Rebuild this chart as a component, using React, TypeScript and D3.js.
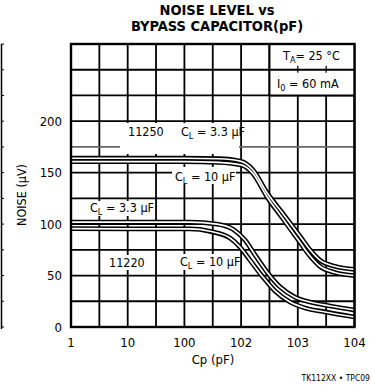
import React from "react";
import * as d3 from "d3";

// Noise vs bypass capacitance, two regulator variants, two load capacitors each
const capValues = [1, 100, 400, 1000, 1600, 2900, 5500, 11000, 16400, 24500, 45000, 100000];
const noise11250CL33 = [164, 164, 163.5, 161, 153, 130, 110, 88, 75, 65, 59, 56];
const noise11250CL10 = [160.7, 160.7, 160, 157.5, 149.5, 126, 105, 82, 69, 59, 53, 50];

const capLow33 = [1, 125, 376, 720, 1170, 1760, 2860, 4850, 8930, 16400, 37000, 100000];
const noise11220CL33 = [102, 102, 100, 95, 84.5, 70, 53.5, 39, 29, 24.3, 20.4, 16.5];
const capLow10 = [1, 125, 283, 637, 955, 1435, 2340, 3960, 7280, 13400, 30200, 100000];
const noise11220CL10 = [95.5, 95.3, 93, 86.5, 77.7, 65, 49.6, 35, 24.3, 18.5, 14.6, 9.7];

const xTickValues = [1, 10, 100, 1000, 10000, 100000];
const xTickLabels = ["1", "10", "100", "102", "103", "104"];
const yTickValues = [0, 50, 100, 150, 200];
const yGridValues = d3.range(0, 276, 25);

const W = 372;
const H = 387;
const FONT = "'Liberation Sans Narrow', 'DejaVu Sans Condensed', 'Arial Narrow', sans-serif";

export default function App() {
  const x = d3.scaleLog().domain([1, 100000]).range([71, 354.5]);
  const y = d3.scaleLinear().domain([0, 275]).range([327, 44]);

  const xGrid: number[] = [];
  for (let k = 0; k <= 5; k += 0.5) xGrid.push(Math.pow(10, k));

  const line = d3
    .line<[number, number]>()
    .x((d) => x(d[0]))
    .y((d) => y(d[1]))
    .curve(d3.curveMonotoneX);

  const series = [
    d3.zip(capValues, noise11250CL33) as [number, number][],
    d3.zip(capValues, noise11250CL10) as [number, number][],
    d3.zip(capLow33, noise11220CL33) as [number, number][],
    d3.zip(capLow10, noise11220CL10) as [number, number][],
  ];

  const [x0, x1] = x.range();
  const [yb, yt] = y.range();
  const boxLeft = x(Math.pow(10, 3.5));
  const boxBottom = y(225);
  const rowMid = y(250);

  const sub = (main: string, s: string, rest: string) => (
    <>
      {main}
      <tspan fontSize={9} dy={3}>{s}</tspan>
      <tspan dy={-3}>{rest}</tspan>
    </>
  );

  return (
    <svg
      width={W}
      height={H}
      style={{ position: "absolute", left: 0, top: 0, background: "#fff" }}
      fontFamily={FONT}
    >
      <rect width={W} height={H} fill="#fff" />

      {/* edge of the neighbouring panel */}
      <line x1={1.5} x2={1.5} y1={yt} y2={yb + 2} stroke="#000" strokeWidth={1.5} />
      {yGridValues.map((v) => (
        <line key={"lt" + v} x1={1.5} x2={4} y1={y(v)} y2={y(v)} stroke="#000" strokeWidth={1} />
      ))}

      {/* title */}
      <text x={217} y={15} textAnchor="middle" fontSize={14.5} fontWeight="bold">
        NOISE LEVEL vs
      </text>
      <text x={217} y={31} textAnchor="middle" fontSize={14.5} fontWeight="bold">
        BYPASS CAPACITOR(pF)
      </text>

      {/* grid */}
      {xGrid.map((g) => (
        <line key={"gx" + g} x1={x(g)} x2={x(g)} y1={yt} y2={yb} stroke="#000" strokeWidth={1.8} />
      ))}
      {yGridValues.map((v) => (
        <line
          key={"gy" + v}
          x1={x0}
          x2={x1}
          y1={y(v)}
          y2={y(v)}
          stroke={v === 175 ? "#666" : "#000"}
          strokeWidth={1.8}
        />
      ))}

      {/* label backgrounds */}
      <rect x={120} y={123} width={119} height={31} fill="#fff" />
      <rect x={172} y={167} width={64} height={17} fill="#fff" />
      <rect x={88} y={201} width={64} height={15} fill="#fff" />
      <rect x={106} y={255} width={38} height={15} fill="#fff" />
      <rect x={178} y={254} width={62} height={16} fill="#fff" />

      {/* conditions box */}
      <rect x={boxLeft} y={yt} width={x1 - boxLeft} height={boxBottom - yt} fill="#fff" />
      <line x1={boxLeft} x2={boxLeft} y1={yt} y2={boxBottom} stroke="#000" strokeWidth={2} />
      <line x1={boxLeft} x2={x1} y1={rowMid} y2={rowMid} stroke="#000" strokeWidth={1.8} />
      <line x1={boxLeft} x2={x1} y1={boxBottom} y2={boxBottom} stroke="#000" strokeWidth={2} />
      {[Math.pow(10, 4), Math.pow(10, 4.5)].map((g) => (
        <line key={"st" + g} x1={x(g)} x2={x(g)} y1={rowMid - 4} y2={rowMid + 3} stroke="#000" strokeWidth={1.2} />
      ))}

      {/* curves: heavy black stroke with a thin white core */}
      {series.map((s, i) => (
        <path key={"b" + i} d={line(s) || ""} fill="none" stroke="#000" strokeWidth={4.8} />
      ))}
      {series.map((s, i) => (
        <path key={"w" + i} d={line(s) || ""} fill="none" stroke="#fff" strokeWidth={1.7} />
      ))}

      {/* frame */}
      <rect x={x0} y={yt} width={x1 - x0} height={yb - yt} fill="none" stroke="#000" strokeWidth={2.4} />

      {/* annotations */}
      <g fontSize={12.5} fill="#000">
        <text x={128} y={136}>11250</text>
        <text x={181} y={136}>{sub("C", "L", " = 3.3 μF")}</text>
        <text x={175} y={181}>{sub("C", "L", " = 10 μF")}</text>
        <text x={90} y={212}>{sub("C", "L", " = 3.3 μF")}</text>
        <text x={109} y={267}>11220</text>
        <text x={180} y={266}>{sub("C", "L", " = 10 μF")}</text>
        <text x={283} y={60}>{sub("T", "A", "= 25 °C")}</text>
        <text x={277} y={88}>{sub("I", "0", " = 60 mA")}</text>
      </g>

      {/* y axis */}
      <g fontSize={13}>
        {yTickValues.map((v) => (
          <text key={"yl" + v} x={62} y={y(v)} dy="0.36em" textAnchor="end">
            {v}
          </text>
        ))}
      </g>
      <text transform={`translate(26,195) rotate(-90)`} textAnchor="middle" fontSize={12.5}>
        NOISE (μV)
      </text>

      {/* x axis */}
      <g fontSize={13}>
        {xTickValues.map((v, i) => (
          <text key={"xl" + v} x={x(v)} y={347} textAnchor="middle">
            {xTickLabels[i]}
          </text>
        ))}
      </g>
      <text x={213} y={364} textAnchor="middle" fontSize={13}>
        Cp (pF)
      </text>
      <text x={370} y={381} textAnchor="end" fontSize={8.5}>
        TK112XX • TPC09
      </text>
    </svg>
  );
}
